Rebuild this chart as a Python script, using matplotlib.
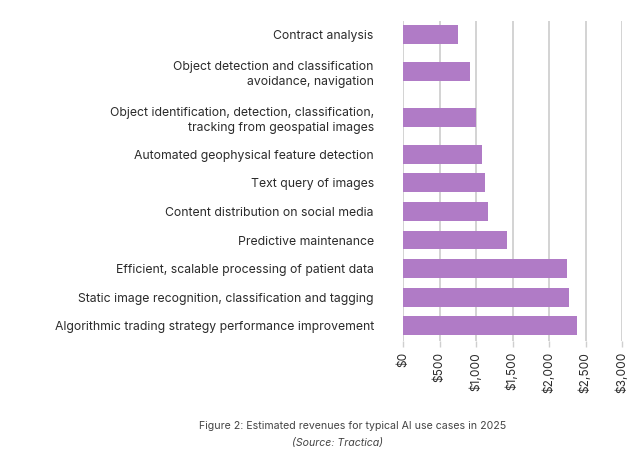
import matplotlib.pyplot as plt
from matplotlib.ticker import FuncFormatter

# AI use case revenues (millions USD)
use_cases = [
    "Contract analysis",
    "Object detection and classification\navoidance, navigation",
    "Object identification, detection, classification,\ntracking from geospatial images",
    "Automated geophysical feature detection",
    "Text query of images",
    "Content distribution on social media",
    "Predictive maintenance",
    "Efficient, scalable processing of patient data",
    "Static image recognition, classification and tagging",
    "Algorithmic trading strategy performance improvement",
]
revenues = [750, 920, 1000, 1080, 1120, 1170, 1430, 2250, 2280, 2380]
x_ticks = [0, 500, 1000, 1500, 2000, 2500, 3000]

plt.rcParams['font.family'] = ['Inter', 'DejaVu Sans']

# spacing grows with the number of lines in neighbouring labels
pos = [0.0]
for prev, cur in zip(use_cases[:-1], use_cases[1:]):
    gap = 1.0 + 0.3 * prev.count("\n") + 0.3 * cur.count("\n")
    pos.append(pos[-1] + gap)

fig = plt.figure(figsize=(6.4, 4.58), dpi=100)
ax = fig.add_axes([403 / 640, 1 - 341 / 458, 219 / 640, 320 / 458])

ax.barh(pos, revenues, height=0.66, color="#b07bc6", zorder=3)
ax.set_ylim(pos[-1] + 0.53, pos[0] - 0.46)
ax.set_xlim(0, 3000)
ax.set_yticks(pos)
ax.set_yticklabels(use_cases, fontsize=8.8, color="#2b2b2b", linespacing=1.35)
ax.set_xticks(x_ticks)
ax.xaxis.set_major_formatter(FuncFormatter(lambda v, p: "${:,.0f}".format(v)))
ax.tick_params(axis="x", labelrotation=90, labelsize=8.6, labelcolor="#2b2b2b",
               length=4, color="#cfcfcf", width=1, pad=4)
ax.tick_params(axis="y", length=0, pad=21)
ax.grid(axis="x", color="#c8c8c8", linewidth=1.1, zorder=0)
for s in ax.spines.values():
    s.set_visible(False)

fig.text(353 / 640, 1 - 426 / 458, "Figure 2: Estimated revenues for typical AI use cases in 2025",
         ha="center", va="center", fontsize=7.6, color="#444444")
fig.text(338 / 640, 1 - 443 / 458, "(Source: Tractica)", ha="center", va="center",
         fontsize=7.6, color="#444444", style="italic")

fig.savefig("out.png", dpi=100)
